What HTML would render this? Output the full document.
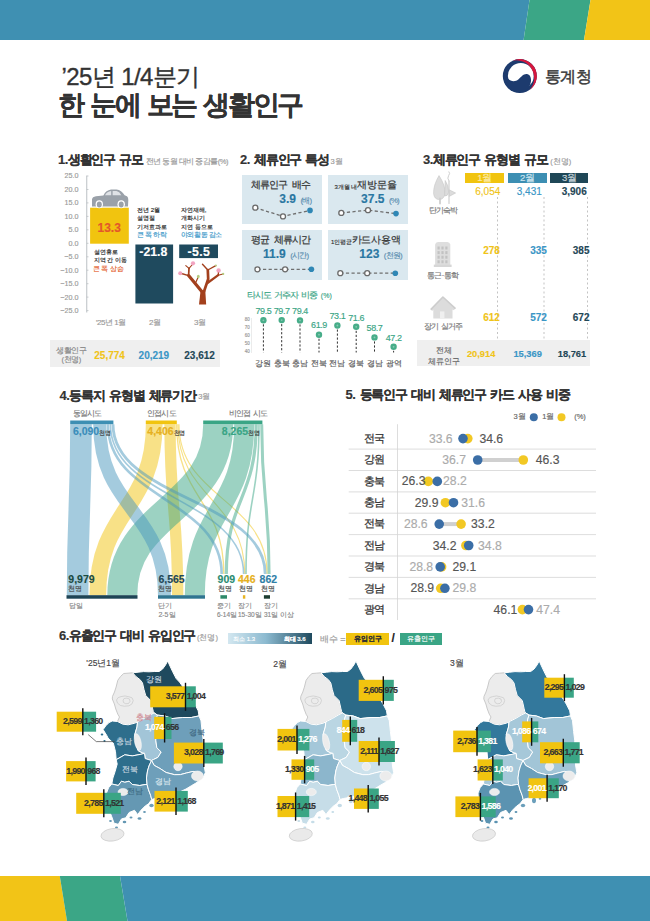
<!DOCTYPE html>
<html><head><meta charset="utf-8">
<style>
*{margin:0;padding:0;box-sizing:border-box}
html,body{width:650px;height:921px;background:#fff;overflow:hidden}
body{position:relative;font-family:"Liberation Sans",sans-serif;color:#333;-webkit-text-stroke-width:0.15px}
.a{position:absolute;white-space:nowrap;line-height:1}
.b{font-weight:bold}
svg{position:absolute;left:0;top:0}
.h{font-size:13px;font-weight:bold;color:#333;letter-spacing:-1.2px;word-spacing:1.8px}
.sub{font-size:7.5px;color:#999;font-weight:normal}
.g{color:#8a8a8a}
.Y{color:#f0c419}.B{color:#3a96c6}.D{color:#1f4757}.G{color:#3aa585}
.mv{font-size:8.8px;letter-spacing:-0.7px}
</style></head><body>
<!-- header bar -->
<svg width="650" height="921" viewBox="0 0 650 921">
<polygon points="0,0 529.5,0 523.6,40 0,40" fill="#3f90b2"/>
<polygon points="529.5,0 590.5,0 584,40 523.6,40" fill="#3ba686"/>
<polygon points="590.5,0 650,0 650,40 584,40" fill="#f2c417"/>
<polygon points="0,876 59.8,876 67,921 0,921" fill="#f2c417"/>
<polygon points="59.8,876 120,876 127.5,921 67,921" fill="#3ba686"/>
<polygon points="120,876 650,876 650,921 127.5,921" fill="#3f90b2"/>
<!-- logo -->
<g transform="translate(519.8,76.1)">
<circle r="17" fill="#1d3b6e"/>
<circle cx="1.0" cy="-0.2" r="12.9" fill="#fff"/>
<path d="M-13.5,-0.5 C-11.5,5.5 -5,6.4 -1.5,3.4 C1.5,0.8 3.5,-2.4 7,-2.1 C10.5,-1.8 11.6,2.2 11.1,5.7 C10.6,9.2 8.6,12 6,14.5 L0,16.5 L-9,14 L-14.5,8 L-15.5,0 Z" fill="#1d3b6e"/>
<path d="M-7.18,-15.41 A17 17 0 0 1 9.75,13.93 A17.8 17.8 0 0 0 -7.18,-15.41 Z" fill="#d6173d"/>
</g>
</svg>
<div class="a" style="left:61.5px;top:64.8px;font-size:24px;font-weight:500;color:#333;letter-spacing:-0.6px;-webkit-text-stroke:0.35px #333">’25년 1/4분기</div>
<div class="a" style="left:58px;top:92px;font-size:26.5px;font-weight:900;color:#333;letter-spacing:-2.3px;word-spacing:2.2px">한 눈에 보는 생활인구</div>
<div class="a" style="left:545px;top:68.5px;font-size:15.6px;color:#3a3a3a;letter-spacing:-0.7px;-webkit-text-stroke:0.45px #3a3a3a">통계청</div>

<!-- section titles -->
<div class="a h" style="left:58px;top:153px"><span style="letter-spacing:-0.5px">1.</span>생활인구 규모</div><div class="a sub" style="left:145.5px;top:157.5px;letter-spacing:-0.5px">전년 동월 대비 증감률(%)</div>
<div class="a h" style="left:240px;top:153px"><span style="letter-spacing:-0.5px">2.</span> 체류인구 특성</div><div class="a sub" style="left:330.6px;top:157.5px">3월</div>
<div class="a h" style="left:423px;top:153px"><span style="letter-spacing:-0.5px">3.</span>체류인구 유형별 규모</div><div class="a sub" style="left:550.2px;top:157.5px">(천명)</div>
<div class="a h" style="left:59.5px;top:388.5px"><span style="letter-spacing:-0.5px">4.</span>등록지 유형별 체류기간</div><div class="a sub" style="left:198.2px;top:393px">3월</div>
<div class="a h" style="left:345.5px;top:388px"><span style="letter-spacing:-0.5px">5.</span> 등록인구 대비 체류인구 카드 사용 비중</div>
<div class="a h" style="left:59px;top:629px"><span style="letter-spacing:-0.5px">6.</span>유출인구 대비 유입인구</div><div class="a sub" style="left:197px;top:633.5px">(천명)</div>
<!-- SEC1 -->
<div class="a" style="right:571.5px;top:172.4px;font-size:7.2px;color:#9a9a9a">25.0</div>
<div class="a" style="right:571.5px;top:185.9px;font-size:7.2px;color:#9a9a9a">20.0</div>
<div class="a" style="right:571.5px;top:199.3px;font-size:7.2px;color:#9a9a9a">15.0</div>
<div class="a" style="right:571.5px;top:212.8px;font-size:7.2px;color:#9a9a9a">10.0</div>
<div class="a" style="right:571.5px;top:226.2px;font-size:7.2px;color:#9a9a9a">5.0</div>
<div class="a" style="right:571.5px;top:239.7px;font-size:7.2px;color:#9a9a9a">0.0</div>
<div class="a" style="right:571.5px;top:253.2px;font-size:7.2px;color:#9a9a9a">−5.0</div>
<div class="a" style="right:571.5px;top:266.6px;font-size:7.2px;color:#9a9a9a">−10.0</div>
<div class="a" style="right:571.5px;top:280.1px;font-size:7.2px;color:#9a9a9a">−15.0</div>
<div class="a" style="right:571.5px;top:293.5px;font-size:7.2px;color:#9a9a9a">−20.0</div>
<div class="a" style="right:571.5px;top:307.0px;font-size:7.2px;color:#9a9a9a">−25.0</div>
<svg width="650" height="921">
<line x1="86.75" y1="175.6" x2="86.75" y2="312.5" stroke="#a9b0b5" stroke-width="0.8"/>
<g stroke="#a9b0b5" stroke-width="0.6">
<line x1="86.75" x2="88.5" y1="176.0" y2="176.0"/><line x1="86.75" x2="88.5" y1="189.5" y2="189.5"/><line x1="86.75" x2="88.5" y1="202.9" y2="202.9"/><line x1="86.75" x2="88.5" y1="216.4" y2="216.4"/><line x1="86.75" x2="88.5" y1="229.8" y2="229.8"/><line x1="86.75" x2="88.5" y1="243.3" y2="243.3"/><line x1="86.75" x2="88.5" y1="256.8" y2="256.8"/><line x1="86.75" x2="88.5" y1="270.2" y2="270.2"/><line x1="86.75" x2="88.5" y1="283.7" y2="283.7"/><line x1="86.75" x2="88.5" y1="297.1" y2="297.1"/><line x1="86.75" x2="88.5" y1="310.6" y2="310.6"/>
</g>
<rect x="90.1" y="207.7" width="38.7" height="36" fill="#f1c40f"/>
<rect x="135.4" y="244.5" width="37.7" height="59" fill="#1f4a5e"/>
<rect x="179.2" y="244.5" width="38.8" height="13.6" fill="#1f4a5e"/>
<!-- car -->
<path d="M92,206.5 L92,199.5 Q92.3,196.8 96,196.3 L103.4,195.4 Q106,190.2 111,189.5 L116.5,189.4 Q121.5,190 124.6,195.2 L127,196.2 Q128.4,197.2 128.3,200 L128,206.5 Z" fill="#9aa1a9"/>
<path d="M105,195.2 Q107,191.4 111.2,191 L111.2,195.2 Z" fill="#dfe2e6"/>
<path d="M112.6,191 L116.5,191 Q119.5,191.6 121.3,195.2 L112.6,195.2 Z" fill="#dfe2e6"/>
<ellipse cx="99.3" cy="204.3" rx="3.7" ry="4" fill="#fff"/><ellipse cx="99.3" cy="204.5" rx="2.5" ry="2.9" fill="#9aa1a9"/>
<ellipse cx="121.2" cy="204.3" rx="3.7" ry="4" fill="#fff"/><ellipse cx="121.2" cy="204.5" rx="2.5" ry="2.9" fill="#9aa1a9"/>
<!-- tree -->
<path d="M199,304.5 L206.2,304.5 L205.3,290.5 L200.6,290.5 Z" fill="#a3401d"/>
<g stroke="#a3401d" stroke-linecap="round" fill="none">
<path d="M201.8,291.5 L188.6,275.6" stroke-width="3.2"/>
<path d="M188.6,275.6 L180.6,273.2" stroke-width="1.5"/>
<path d="M188.6,275.6 L189,268.4" stroke-width="1.7"/>
<path d="M189,268.4 L185.8,265.6" stroke-width="1.1"/>
<path d="M189,268.4 L192,265" stroke-width="1.1"/>
<path d="M195.5,283 L198,277.5" stroke-width="1.2"/>
<path d="M204,291.5 L208.2,279 L207.8,270" stroke-width="2.7"/>
<path d="M207.8,270 L202.5,264.3" stroke-width="1.4"/>
<path d="M207.8,270 L215.8,265.6" stroke-width="1.2"/>
<path d="M207.5,283 L218.2,275.2" stroke-width="2.2"/>
<path d="M218.2,275.2 L218.6,271" stroke-width="1.3"/>
<path d="M218.2,275.2 L223,274" stroke-width="1.1"/>
</g>
<g fill="#f2a3c0"><circle cx="180.2" cy="273.2" r="2"/><circle cx="193" cy="263.3" r="2.1"/><circle cx="218.6" cy="270.4" r="2.2"/></g>
<g fill="#b5cc80"><ellipse cx="198.3" cy="276.6" rx="1.4" ry="1.8"/><circle cx="215.9" cy="265.5" r="1"/><circle cx="223.2" cy="273.9" r="1.1"/></g>
</svg>
<div class="a b" style="left:97.5px;top:222.3px;font-size:12px;color:#e4572a">13.3</div>
<div class="a b" style="left:139.3px;top:245.5px;font-size:12.3px;color:#fff">-21.8</div>
<div class="a b" style="left:187.5px;top:245.5px;font-size:12.3px;color:#fff;letter-spacing:0.4px">-5.5</div>
<div class="a" style="left:93.5px;top:248px;font-size:6.2px;color:#222;font-weight:500;line-height:8.3px">설연휴로<br>지역 간 이동</div>
<div class="a" style="left:93px;top:264.8px;font-size:7.4px;color:#e4602e;letter-spacing:-0.3px;-webkit-text-stroke:0.15px #e4602e">큰 폭 상승</div>
<div class="a" style="left:137px;top:205.8px;font-size:6.2px;color:#222;font-weight:500;line-height:8.6px">전년 2월<br>설명절<br>기저효과로</div>
<div class="a" style="left:137px;top:231px;font-size:7.2px;color:#3a98c9;letter-spacing:-0.4px;-webkit-text-stroke:0.15px #3a98c9">큰 폭 하락</div>
<div class="a" style="left:180.8px;top:205.8px;font-size:6.2px;color:#222;font-weight:500;line-height:8.6px">자연재해,<br>개화시기<br>지연 등으로</div>
<div class="a" style="left:180.8px;top:231px;font-size:7.2px;color:#3a98c9;letter-spacing:-0.4px;-webkit-text-stroke:0.15px #3a98c9">야외활동 감소</div>
<div class="a" style="left:95.7px;top:318.5px;font-size:8px;color:#999;letter-spacing:-0.45px">’25년 1월</div>
<div class="a" style="left:149px;top:318.5px;font-size:8px;color:#999">2월</div>
<div class="a" style="left:194px;top:318.5px;font-size:8px;color:#999">3월</div>
<div class="a" style="left:50px;top:339.6px;width:170.3px;height:27.7px;background:#efefef"></div>
<div class="a" style="left:56px;top:345.5px;font-size:7.5px;color:#888;line-height:9.7px;text-align:center;letter-spacing:-0.4px">생활인구<br>(천명)</div>
<div class="a b Y" style="left:94.3px;top:351px;font-size:10px">25,774</div>
<div class="a b B" style="left:138.6px;top:351px;font-size:10px">20,219</div>
<div class="a b D" style="left:184.3px;top:351px;font-size:10px">23,612</div>

<!-- /SEC1 -->
<!-- SEC2 -->

<div class="a" style="left:242.2px;top:174.8px;width:80.3px;height:49.5px;background:#dae8ef"></div>
<div class="a" style="left:328.2px;top:174.8px;width:79.6px;height:49.5px;background:#dae8ef"></div>
<div class="a" style="left:242.2px;top:229.8px;width:80.3px;height:49.9px;background:#dae8ef"></div>
<div class="a" style="left:328.2px;top:229.8px;width:79.6px;height:49.9px;background:#dae8ef"></div>
<div class="a" style="left:250.7px;top:179.8px;font-size:10.3px;color:#333;letter-spacing:-0.75px;word-spacing:2.2px;-webkit-text-stroke:0.2px #333">체류인구 배수</div>
<div class="a" style="left:334.4px;top:184.3px;font-size:6px;color:#333;font-weight:500">3개월 내</div>
<div class="a" style="left:357.2px;top:179.8px;font-size:10.3px;color:#333;letter-spacing:-0.2px;-webkit-text-stroke:0.2px #333">재방문율</div>
<div class="a" style="left:251.2px;top:234.8px;font-size:10.3px;color:#333;letter-spacing:-0.9px;word-spacing:2.2px;-webkit-text-stroke:0.2px #333">평균 체류시간</div>
<div class="a" style="left:330.9px;top:239.3px;font-size:6px;color:#333;font-weight:500">1인평균</div>
<div class="a" style="left:351.7px;top:234.8px;font-size:10.3px;color:#333;letter-spacing:-0.2px;-webkit-text-stroke:0.2px #333">카드사용액</div>
<div class="a" style="left:279.3px;top:190px"><span class="b" style="font-size:12px;color:#2a77a2">3.9</span> <span style="font-size:8px;color:#5b8fb0;letter-spacing:-0.8px">(배)</span></div>
<div class="a" style="left:361.1px;top:190px"><span class="b" style="font-size:12px;color:#2a77a2">37.5</span> <span style="font-size:8px;color:#5b8fb0;letter-spacing:-0.8px">(%)</span></div>
<div class="a" style="left:263px;top:245.3px"><span class="b" style="font-size:12px;color:#2a77a2">11.9</span> <span style="font-size:8px;color:#5b8fb0;letter-spacing:-0.8px">(시간)</span></div>
<div class="a" style="left:359.3px;top:245.3px"><span class="b" style="font-size:12px;color:#2a77a2">123</span> <span style="font-size:8px;color:#5b8fb0;letter-spacing:-0.8px">(천원)</span></div>
<svg width="650" height="921">
<g stroke="#6f6f6f" stroke-width="1.3" stroke-dasharray="3.2,2.4" fill="none">
<polyline points="255.3,207.7 283,216.4 310,210.4"/>
<polyline points="341.3,212.9 368,210.2 396,213.6"/>
<polyline points="257.4,269.3 285.1,269.3 311.4,269.3"/>
<polyline points="340.3,273.2 367.2,273.2 395.3,273.2"/>
</g>
<g fill="#fff" stroke="#6a6a6a" stroke-width="1.3">
<circle cx="255.3" cy="207.7" r="2.5"/><circle cx="283" cy="216.4" r="2.5"/>
<circle cx="341.3" cy="212.9" r="2.5"/><circle cx="368" cy="210.2" r="2.5"/>
<circle cx="257.4" cy="269.3" r="2.5"/><circle cx="285.1" cy="269.3" r="2.5"/>
<circle cx="340.3" cy="273.2" r="2.5"/><circle cx="367.2" cy="273.2" r="2.5"/>
</g>
<g fill="#2f87b5">
<circle cx="310" cy="210.4" r="2.8"/><circle cx="396" cy="213.6" r="2.8"/><circle cx="311.4" cy="269.3" r="2.8"/><circle cx="395.3" cy="273.2" r="2.8"/>
</g>
<g stroke="#333" stroke-width="1" stroke-dasharray="2.2,1.8"><line x1="263.4" y1="320.3" x2="263.4" y2="352.5"/><line x1="281.7" y1="320.1" x2="281.7" y2="352.5"/><line x1="300" y1="320.4" x2="300" y2="352.5"/><line x1="319" y1="334.7" x2="319" y2="352.5"/><line x1="337.4" y1="325.5" x2="337.4" y2="352.5"/><line x1="356.2" y1="326.8" x2="356.2" y2="352.5"/><line x1="374.5" y1="337.4" x2="374.5" y2="352.5"/><line x1="393.6" y1="346.8" x2="393.6" y2="352.5"/></g><g fill="#47ad89"><circle cx="263.4" cy="320.3" r="3.2"/><circle cx="281.7" cy="320.1" r="3.2"/><circle cx="300" cy="320.4" r="3.2"/><circle cx="319" cy="334.7" r="3.2"/><circle cx="337.4" cy="325.5" r="3.2"/><circle cx="356.2" cy="326.8" r="3.2"/><circle cx="374.5" cy="337.4" r="3.2"/><circle cx="393.6" cy="346.8" r="3.2"/></g><g fill="#fff" opacity="0.35"><circle cx="263.4" cy="320.3" r="0.9"/><circle cx="281.7" cy="320.1" r="0.9"/><circle cx="300" cy="320.4" r="0.9"/><circle cx="319" cy="334.7" r="0.9"/><circle cx="337.4" cy="325.5" r="0.9"/><circle cx="356.2" cy="326.8" r="0.9"/><circle cx="374.5" cy="337.4" r="0.9"/><circle cx="393.6" cy="346.8" r="0.9"/></g><line x1="251.5" y1="318" x2="251.5" y2="353" stroke="#ddd" stroke-width="0.6"/></svg>
<div class="a" style="left:244.8px;top:318.1px;font-size:4.5px;color:#999">80</div>
<div class="a" style="left:244.8px;top:326.2px;font-size:4.5px;color:#999">70</div>
<div class="a" style="left:244.8px;top:334.2px;font-size:4.5px;color:#999">60</div>
<div class="a" style="left:244.8px;top:342.2px;font-size:4.5px;color:#999">50</div>
<div class="a" style="left:244.8px;top:350.3px;font-size:4.5px;color:#999">40</div>
<div class="a G" style="left:243.39999999999998px;width:40px;text-align:center;top:307.0px;font-size:9px;letter-spacing:-0.4px">79.5</div>
<div class="a G" style="left:261.7px;width:40px;text-align:center;top:306.8px;font-size:9px;letter-spacing:-0.4px">79.7</div>
<div class="a G" style="left:280px;width:40px;text-align:center;top:307.1px;font-size:9px;letter-spacing:-0.4px">79.4</div>
<div class="a G" style="left:299px;width:40px;text-align:center;top:321.4px;font-size:9px;letter-spacing:-0.4px">61.9</div>
<div class="a G" style="left:317.4px;width:40px;text-align:center;top:312.2px;font-size:9px;letter-spacing:-0.4px">73.1</div>
<div class="a G" style="left:336.2px;width:40px;text-align:center;top:313.5px;font-size:9px;letter-spacing:-0.4px">71.6</div>
<div class="a G" style="left:354.5px;width:40px;text-align:center;top:324.1px;font-size:9px;letter-spacing:-0.4px">58.7</div>
<div class="a G" style="left:373.6px;width:40px;text-align:center;top:333.5px;font-size:9px;letter-spacing:-0.4px">47.2</div>
<div class="a" style="left:248.39999999999998px;width:30px;text-align:center;top:359.5px;font-size:8px;color:#555">강원</div>
<div class="a" style="left:266.7px;width:30px;text-align:center;top:359.5px;font-size:8px;color:#555">충북</div>
<div class="a" style="left:285px;width:30px;text-align:center;top:359.5px;font-size:8px;color:#555">충남</div>
<div class="a" style="left:304px;width:30px;text-align:center;top:359.5px;font-size:8px;color:#555">전북</div>
<div class="a" style="left:322.4px;width:30px;text-align:center;top:359.5px;font-size:8px;color:#555">전남</div>
<div class="a" style="left:341.2px;width:30px;text-align:center;top:359.5px;font-size:8px;color:#555">경북</div>
<div class="a" style="left:359.5px;width:30px;text-align:center;top:359.5px;font-size:8px;color:#555">경남</div>
<div class="a" style="left:378.6px;width:30px;text-align:center;top:359.5px;font-size:8px;color:#555">광역</div>
<div class="a G" style="left:247.2px;top:291px;font-size:9.2px;letter-spacing:-1.2px;word-spacing:2.4px">타시도 거주자 비중 <span style="font-size:7px;letter-spacing:0">(%)</span></div>
<!-- /SEC2 -->
<!-- SEC3 -->

<div class="a" style="left:464.9px;top:172.7px;width:39.6px;height:10.5px;background:#f1c40f;color:#fbeaa8;font-size:9.6px;text-align:center;line-height:10.5px;letter-spacing:-0.3px">1월</div>
<div class="a" style="left:508px;top:172.7px;width:38.8px;height:10.5px;background:#3d8fb3;color:#cfe5ef;font-size:9.6px;text-align:center;line-height:10.5px;letter-spacing:-0.3px">2월</div>
<div class="a" style="left:550.2px;top:172.7px;width:38.2px;height:10.5px;background:#1f4757;color:#c9d6dc;font-size:9.6px;text-align:center;line-height:10.5px;letter-spacing:-0.3px">3월</div>
<div class="a" style="left:416.9px;top:340.2px;width:173.3px;height:26.3px;background:#efefef"></div>
<svg width="650" height="921"><g stroke="#aaa" stroke-width="0.7" stroke-dasharray="2,2.5">
<line x1="497.5" y1="197" x2="497.5" y2="340"/><line x1="544" y1="197" x2="544" y2="340"/><line x1="587.5" y1="197" x2="587.5" y2="340"/>
</g>
<!-- hotel/tree icon -->
<g fill="#dcdcdc" stroke="#c6c6c6" stroke-width="0.6">
<path d="M439,175.6 Q445.5,185.5 445,193.5 Q444,199.5 439.2,199.5 Q434.2,199.5 433.6,193.5 Q433.2,185.5 439,175.6 Z"/>
<path d="M445.2,180.5 Q449,186 448.6,192.5 Q447.6,196.5 444.6,196 Z"/>
<path d="M449.2,189.8 L455.6,193 L449.2,196.4 Z"/>
</g>
<g stroke="#cfcfcf" fill="none" stroke-linecap="round">
<path d="M440,198.5 L440,203.6" stroke-width="1.8"/>
<path d="M449,181 L449,203.5" stroke-width="1.2"/>
<path d="M449,181 Q446.8,178 448.6,175.6 Q450.6,173.5 449,171.8" stroke-width="1"/>
</g>
<!-- building -->
<path d="M435.1,266.8 L435.1,244.5 Q435.6,242 438,242 L447.4,242 Q449.8,242 450.3,244.5 L450.3,266.8 Z" fill="#dedede"/>
<rect x="433.8" y="264.6" width="17.8" height="2.4" fill="#d6d6d6"/>
<g fill="#c2c2c2">
<rect x="437.5" y="246.5" width="2.2" height="3"/><rect x="441.4" y="246.5" width="2.2" height="3"/><rect x="445.3" y="246.5" width="2.2" height="3"/><rect x="437.5" y="251.1" width="2.2" height="3"/><rect x="441.4" y="251.1" width="2.2" height="3"/><rect x="445.3" y="251.1" width="2.2" height="3"/><rect x="437.5" y="255.7" width="2.2" height="3"/><rect x="441.4" y="255.7" width="2.2" height="3"/><rect x="445.3" y="255.7" width="2.2" height="3"/><rect x="437.5" y="260.3" width="2.2" height="3"/><rect x="441.4" y="260.3" width="2.2" height="3"/><rect x="445.3" y="260.3" width="2.2" height="3"/>
</g>
<!-- house -->
<path d="M430.7,309.6 L442.9,297 L455.5,308.6 L453.6,310.2 L452.5,309.4 L452.5,318.4 L433.3,318.4 L433.3,309.6 L432.3,311 Z" fill="#dcdcdc"/>
<path d="M430.7,309.6 L442.9,297 L455.5,308.6" fill="none" stroke="#cdcdcd" stroke-width="1.6" stroke-linejoin="round"/>
<rect x="440" y="311.4" width="4.4" height="7" fill="#efefef"/>
</svg>
<div class="a" style="left:428.7px;top:207.2px;font-size:7.6px;color:#777;letter-spacing:-0.9px">단기숙박</div>
<div class="a" style="left:427px;top:271.8px;font-size:7.5px;color:#777;letter-spacing:-0.6px">통근·통학</div>
<div class="a" style="left:424.2px;top:322.6px;font-size:7.5px;color:#777;letter-spacing:-1.1px;word-spacing:2px">장기 실거주</div>
<div class="a" style="left:424px;width:40px;text-align:center;top:344.8px;font-size:7.5px;color:#666;line-height:11px">전체<br>체류인구</div>
<div class="a Y" style="right:149.7px;top:186.7px;font-size:10px">6,054</div>
<div class="a B" style="right:108.2px;top:186.7px;font-size:10px">3,431</div>
<div class="a D b" style="right:63.3px;top:186.7px;font-size:10px">3,906</div>
<div class="a Y b" style="right:150.2px;top:245.8px;font-size:10px">278</div>
<div class="a B b" style="right:103.2px;top:245.8px;font-size:10px">335</div>
<div class="a D b" style="right:60.5px;top:245.8px;font-size:10px">385</div>
<div class="a Y b" style="right:150.2px;top:313.0px;font-size:10px">612</div>
<div class="a B b" style="right:103.2px;top:313.0px;font-size:10px">572</div>
<div class="a D b" style="right:60.5px;top:313.0px;font-size:10px">672</div>
<div class="a Y b" style="right:154.7px;top:349.6px;font-size:9.3px">20,914</div>
<div class="a B b" style="right:108.2px;top:349.6px;font-size:9.3px">15,369</div>
<div class="a D b" style="right:63.8px;top:349.6px;font-size:9.3px">18,761</div>
<!-- /SEC3 -->
<!-- SEC4 -->
<svg width="650" height="921">
<path d="M154.2,424.2 C154.2,509.7 97.8,509.7 97.8,595.2" stroke="#f1c40f" stroke-opacity="0.5" stroke-width="16.7" fill="none"/>
<path d="M170.0,424.2 C170.0,509.7 177.7,509.7 177.7,595.2" stroke="#f1c40f" stroke-opacity="0.5" stroke-width="11.3" fill="none"/>
<path d="M176.6,424.2 C176.6,499.1 223.8,499.1 223.8,574" stroke="#f1c40f" stroke-opacity="0.5" stroke-width="1.3" fill="none"/>
<path d="M177.9,424.2 C177.9,499.1 244.8,499.1 244.8,574" stroke="#f1c40f" stroke-opacity="0.5" stroke-width="1.1" fill="none"/>
<path d="M179.0,424.2 C179.0,499.1 267.1,499.1 267.1,574" stroke="#f1c40f" stroke-opacity="0.5" stroke-width="1.1" fill="none"/>
<path d="M218.2,424.2 C218.2,509.7 122.3,509.7 122.3,595.2" stroke="#3aa585" stroke-opacity="0.5" stroke-width="30.0" fill="none"/>
<path d="M244.2,424.2 C244.2,509.7 194.8,509.7 194.8,595.2" stroke="#3aa585" stroke-opacity="0.5" stroke-width="20.0" fill="none"/>
<path d="M256.2,424.2 C256.2,499.1 226.3,499.1 226.3,574" stroke="#3aa585" stroke-opacity="0.5" stroke-width="3.2" fill="none"/>
<path d="M259.0,424.2 C259.0,499.1 246.0,499.1 246.0,574" stroke="#3aa585" stroke-opacity="0.5" stroke-width="1.6" fill="none"/>
<path d="M261.7,424.2 C261.7,499.1 269.1,499.1 269.1,574" stroke="#3aa585" stroke-opacity="0.5" stroke-width="3.0" fill="none"/>
<path d="M81.0,424.2 C81.0,509.7 77.6,509.7 77.6,595.2" stroke="#4a97bd" stroke-opacity="0.5" stroke-width="21.6" fill="none"/>
<path d="M99.7,424.2 C99.7,509.7 164.5,509.7 164.5,595.2" stroke="#4a97bd" stroke-opacity="0.5" stroke-width="13.0" fill="none"/>
<path d="M107.9,424.2 C107.9,499.1 221.7,499.1 221.7,574" stroke="#4a97bd" stroke-opacity="0.5" stroke-width="2.6" fill="none"/>
<path d="M110.4,424.2 C110.4,499.1 243.6,499.1 243.6,574" stroke="#4a97bd" stroke-opacity="0.5" stroke-width="1.6" fill="none"/>
<path d="M113.0,424.2 C113.0,499.1 265.2,499.1 265.2,574" stroke="#4a97bd" stroke-opacity="0.5" stroke-width="2.8" fill="none"/>
<rect x="70.2" y="420.5" width="43.2" height="3.7" fill="#3d8fb3"/>
<rect x="145.8" y="420.5" width="31" height="3.7" fill="#f1c40f"/>
<rect x="203.2" y="420.5" width="59.2" height="3.7" fill="#3aa585"/>
<rect x="66.5" y="595.2" width="71" height="3.5" fill="#1d4455"/>
<rect x="158" y="595.2" width="47" height="3.5" fill="#2f7590"/>
<rect x="220.4" y="595.2" width="6.6" height="3.5" fill="#2f8a6a"/>
<rect x="242.9" y="595.2" width="2.4" height="3.5" fill="#e8b422"/>
<rect x="263.9" y="595.2" width="6.1" height="3.5" fill="#1d3d30"/>
</svg>
<div class="a" style="left:72.9px;top:409.6px;font-size:7.5px;color:#777;letter-spacing:-0.9px">동일시도</div>
<div class="a" style="left:147.3px;top:409.6px;font-size:7.5px;color:#777;letter-spacing:-0.9px">인접시도</div>
<div class="a" style="left:229.2px;top:409.6px;font-size:7.5px;color:#777;letter-spacing:-1px;word-spacing:2px">비인접 시도</div>
<div class="a" style="left:72.9px;top:426.3px;font-size:10.5px"><span class="b" style="color:#3a8dba">6,090</span><span style="font-size:6.3px;color:#333;letter-spacing:-0.4px">천명</span></div>
<div class="a" style="left:147.3px;top:426.3px;font-size:10.5px"><span class="b" style="color:#e6b020">4,406</span><span style="font-size:6.3px;color:#333;letter-spacing:-0.4px">천명</span></div>
<div class="a" style="left:221.8px;top:426.3px;font-size:10.5px"><span class="b" style="color:#3aa585">8,265</span><span style="font-size:6.3px;color:#333;letter-spacing:-0.4px">천명</span></div>
<div class="a b" style="left:68.3px;top:573.5px;font-size:10.5px;color:#1a4a40">9,979</div>
<div class="a b" style="left:158.4px;top:573.5px;font-size:10.5px;color:#1f4757">6,565</div>
<div class="a b" style="left:217.6px;top:573.5px;font-size:10.5px;color:#2a8c72">909</div>
<div class="a b" style="left:238px;top:573.5px;font-size:10.5px;color:#e6b020">446</div>
<div class="a b" style="left:259.6px;top:573.5px;font-size:10.5px;color:#2f7fa7">862</div>
<div class="a" style="left:68.3px;top:585.5px;font-size:6.5px;color:#444">천명</div>
<div class="a" style="left:158.4px;top:585.5px;font-size:6.5px;color:#444">천명</div>
<div class="a" style="left:217.6px;top:585.5px;font-size:6.5px;color:#444">천명</div>
<div class="a" style="left:238.8px;top:585.5px;font-size:6.5px;color:#444">천명</div>
<div class="a" style="left:260.5px;top:585.5px;font-size:6.5px;color:#444">천명</div>
<div class="a" style="left:69.2px;top:601.8px;font-size:7px;color:#888">당일</div>
<div class="a" style="left:158.4px;top:600.5px;font-size:7px;color:#888;line-height:9px">단기<br>2-5일</div>
<div class="a" style="left:217px;top:600.5px;font-size:6.5px;color:#888;line-height:9px">중기<br>6-14일</div>
<div class="a" style="left:238px;top:600.5px;font-size:6.5px;color:#888;line-height:9px">장기<br>15-30일</div>
<div class="a" style="left:264px;top:600.5px;font-size:6.5px;color:#888;line-height:9px">장기<br>31일 이상</div>
<!-- /SEC4 -->
<!-- SEC5 -->
<svg width="650" height="921">
<line x1="397.5" y1="424.2" x2="397.5" y2="620" stroke="#d4d4d4" stroke-width="0.8"/>
<line x1="348.7" y1="449.1" x2="596" y2="449.1" stroke="#d4d4d4" stroke-width="0.8"/>
<line x1="348.7" y1="470.5" x2="596" y2="470.5" stroke="#d4d4d4" stroke-width="0.8"/>
<line x1="348.7" y1="491.9" x2="596" y2="491.9" stroke="#d4d4d4" stroke-width="0.8"/>
<line x1="348.7" y1="513.2" x2="596" y2="513.2" stroke="#d4d4d4" stroke-width="0.8"/>
<line x1="348.7" y1="534.6" x2="596" y2="534.6" stroke="#d4d4d4" stroke-width="0.8"/>
<line x1="348.7" y1="556.0" x2="596" y2="556.0" stroke="#d4d4d4" stroke-width="0.8"/>
<line x1="348.7" y1="577.4" x2="596" y2="577.4" stroke="#d4d4d4" stroke-width="0.8"/>
<line x1="348.7" y1="598.8" x2="596" y2="598.8" stroke="#d4d4d4" stroke-width="0.8"/>
<line x1="463.0" y1="438.6" x2="467.8" y2="438.6" stroke="#d0d0d0" stroke-width="4"/>
<circle cx="467.8" cy="438.6" r="4.8" fill="#f2c824"/>
<circle cx="463.0" cy="438.6" r="4.8" fill="#3b6ea6"/>
<line x1="477.7" y1="460.0" x2="523.3" y2="460.0" stroke="#d0d0d0" stroke-width="4"/>
<circle cx="523.3" cy="460.0" r="4.8" fill="#f2c824"/>
<circle cx="477.7" cy="460.0" r="4.8" fill="#3b6ea6"/>
<line x1="428.3" y1="481.4" x2="437.3" y2="481.4" stroke="#d0d0d0" stroke-width="4"/>
<circle cx="428.3" cy="481.4" r="4.8" fill="#f2c824"/>
<circle cx="437.3" cy="481.4" r="4.8" fill="#3b6ea6"/>
<line x1="445.4" y1="502.7" x2="453.5" y2="502.7" stroke="#d0d0d0" stroke-width="4"/>
<circle cx="445.4" cy="502.7" r="4.8" fill="#f2c824"/>
<circle cx="453.5" cy="502.7" r="4.8" fill="#3b6ea6"/>
<line x1="439.2" y1="524.1" x2="461.1" y2="524.1" stroke="#d0d0d0" stroke-width="4"/>
<circle cx="461.1" cy="524.1" r="4.8" fill="#f2c824"/>
<circle cx="439.2" cy="524.1" r="4.8" fill="#3b6ea6"/>
<line x1="465.9" y1="545.5" x2="468.7" y2="545.5" stroke="#d0d0d0" stroke-width="4"/>
<circle cx="465.9" cy="545.5" r="4.8" fill="#f2c824"/>
<circle cx="468.7" cy="545.5" r="4.8" fill="#3b6ea6"/>
<line x1="440.2" y1="566.9" x2="441.6" y2="566.9" stroke="#d0d0d0" stroke-width="4"/>
<circle cx="441.6" cy="566.9" r="4.8" fill="#f2c824"/>
<circle cx="440.2" cy="566.9" r="4.8" fill="#3b6ea6"/>
<line x1="440.7" y1="588.3" x2="444.9" y2="588.3" stroke="#d0d0d0" stroke-width="4"/>
<circle cx="440.7" cy="588.3" r="4.8" fill="#f2c824"/>
<circle cx="444.9" cy="588.3" r="4.8" fill="#3b6ea6"/>
<line x1="522.4" y1="609.6" x2="528.5" y2="609.6" stroke="#d0d0d0" stroke-width="4"/>
<circle cx="522.4" cy="609.6" r="4.8" fill="#f2c824"/>
<circle cx="528.5" cy="609.6" r="4.8" fill="#3b6ea6"/>
<circle cx="533.8" cy="417.3" r="4" fill="#3b6ea6"/><circle cx="561.5" cy="417.3" r="4" fill="#f2c824"/>
</svg>
<div class="a" style="right:197.4px;top:432.6px;font-size:12.2px;color:#ababab">33.6</div>
<div class="a" style="left:479.4px;top:432.6px;font-size:12.2px;color:#555">34.6</div>
<div class="a" style="left:363.6px;top:432.8px;font-size:10.8px;color:#333;letter-spacing:-0.6px;-webkit-text-stroke:0.25px #333">전국</div>
<div class="a" style="right:184.0px;top:454.0px;font-size:12.2px;color:#ababab">36.7</div>
<div class="a" style="left:535.7px;top:454.0px;font-size:12.2px;color:#555">46.3</div>
<div class="a" style="left:363.6px;top:454.2px;font-size:10.8px;color:#333;letter-spacing:-0.6px;-webkit-text-stroke:0.25px #333">강원</div>
<div class="a" style="right:224.5px;top:475.4px;font-size:12.2px;color:#555">26.3</div>
<div class="a" style="left:443.1px;top:475.4px;font-size:12.2px;color:#ababab">28.2</div>
<div class="a" style="left:363.6px;top:475.6px;font-size:10.8px;color:#333;letter-spacing:-0.6px;-webkit-text-stroke:0.25px #333">충북</div>
<div class="a" style="right:211.5px;top:496.7px;font-size:12.2px;color:#555">29.9</div>
<div class="a" style="left:461.2px;top:496.7px;font-size:12.2px;color:#ababab">31.6</div>
<div class="a" style="left:363.6px;top:496.9px;font-size:10.8px;color:#333;letter-spacing:-0.6px;-webkit-text-stroke:0.25px #333">충남</div>
<div class="a" style="right:222.4px;top:518.1px;font-size:12.2px;color:#ababab">28.6</div>
<div class="a" style="left:471.1px;top:518.1px;font-size:12.2px;color:#555">33.2</div>
<div class="a" style="left:363.6px;top:518.3px;font-size:10.8px;color:#333;letter-spacing:-0.6px;-webkit-text-stroke:0.25px #333">전북</div>
<div class="a" style="right:193.5px;top:539.5px;font-size:12.2px;color:#555">34.2</div>
<div class="a" style="left:478.1px;top:539.5px;font-size:12.2px;color:#ababab">34.8</div>
<div class="a" style="left:363.6px;top:539.7px;font-size:10.8px;color:#333;letter-spacing:-0.6px;-webkit-text-stroke:0.25px #333">전남</div>
<div class="a" style="right:216.9px;top:560.9px;font-size:12.2px;color:#ababab">28.8</div>
<div class="a" style="left:452.5px;top:560.9px;font-size:12.2px;color:#555">29.1</div>
<div class="a" style="left:363.6px;top:561.1px;font-size:10.8px;color:#333;letter-spacing:-0.6px;-webkit-text-stroke:0.25px #333">경북</div>
<div class="a" style="right:215.9px;top:582.3px;font-size:12.2px;color:#555">28.9</div>
<div class="a" style="left:452.5px;top:582.3px;font-size:12.2px;color:#ababab">29.8</div>
<div class="a" style="left:363.6px;top:582.5px;font-size:10.8px;color:#333;letter-spacing:-0.6px;-webkit-text-stroke:0.25px #333">경남</div>
<div class="a" style="right:132.7px;top:603.6px;font-size:12.2px;color:#555">46.1</div>
<div class="a" style="left:536.2px;top:603.6px;font-size:12.2px;color:#ababab">47.4</div>
<div class="a" style="left:363.6px;top:603.8px;font-size:10.8px;color:#333;letter-spacing:-0.6px;-webkit-text-stroke:0.25px #333">광역</div>
<div class="a" style="left:513.5px;top:413.3px;font-size:7.5px;color:#666">3월</div>
<div class="a" style="left:542.3px;top:413.3px;font-size:7.5px;color:#666">1월</div>
<div class="a" style="left:574.2px;top:413.3px;font-size:7.5px;color:#666">(%)</div>
<!-- /SEC5 -->
<!-- SEC6 -->
<svg width="650" height="921">
<g transform="translate(0,0)">
<polygon points="132.7,672.8 135.9,676.5 140.2,679.8 142.5,683 144,689.6 145.7,695.5 150.8,700.6 152.5,708.2 153.3,711.5 154.1,712.9 149.8,715.1 144.4,718.3 139,721 137.5,722 134.7,723.2 128.2,724.8 122.9,724.2 117.5,721.5 119.5,717 117.8,714.2 115.8,709 114.4,704 112.3,699 112.5,696.4 114.5,692 116.1,687.1 117.8,680.3 120.5,676.5 123.7,673.5 128,673.2" fill="#ececec" stroke="#c9c9c9" stroke-width="1" stroke-linejoin="round"/>
<polygon points="132.7,672.8 138.1,672.2 143.5,671.6 149,671.8 154.2,671.5 159.2,671.5 162.6,669 165.5,665 167.7,661 169.5,665 172.7,671.8 176.2,678.6 179.5,682.1 183,687 187,692 191,698 194.8,704.1 198.2,710.8 199,715.9 191.3,717.5 182.7,717.5 171.9,718.6 165,716 157.5,715.1 154.1,712.9 153.3,711.5 152.5,708.2 150.8,700.6 145.7,695.5 144,689.6 142.5,683 140.2,679.8 135.9,676.5" fill="#1f4a5e" stroke="#fff" stroke-width="1" stroke-linejoin="round"/>
<polygon points="112.2,721 117.5,721.5 122.9,724.2 128.2,724.8 134.7,723.2 137.5,722 137,727 134.8,734.5 135.9,743.1 138.1,750.6 142.4,752.8 144.5,753.3 140.9,754.3 132.3,755.9 124.8,754.8 116.2,759.7 115.5,751.7 113.3,743.1 108,738 106.8,735.5 103.1,729.6 105.8,725.8 109,722.6" fill="#2e6e8c" stroke="#fff" stroke-width="1" stroke-linejoin="round"/>
<polygon points="137.5,722 139,721 144.4,718.3 149.8,715.1 154.1,712.9 157.5,715.1 156,720 155.8,740.2 156.8,747.7 161.2,752 157.9,757.4 153.5,759.5 151.5,760.5 145.2,758.6 144.5,753.3 142.4,752.8 138.1,750.6 135.9,743.1 134.8,734.5 137,727" fill="#a2c5d8" stroke="#fff" stroke-width="1" stroke-linejoin="round"/>
<polygon points="116.2,759.7 124.8,754.8 132.3,755.9 140.9,754.3 144.5,753.3 145.2,758.6 151.5,760.5 149,766 147.5,771 146.5,778 147.1,784.5 145.2,784.5 139.8,785.5 132.3,784.5 129.1,781.2 124.8,782.3 121.5,781.2 118.3,785.5 111.8,784 112.9,778 115.1,771.5 117.2,764" fill="#2e6e8c" stroke="#fff" stroke-width="1" stroke-linejoin="round"/>
<polygon points="111.8,784 118.3,785.5 121.5,781.2 124.8,782.3 129.1,781.2 132.3,784.5 139.8,785.5 145.2,784.5 147.1,784.5 148.5,789.8 150.6,795.2 151.7,799.5 148.5,803.8 145.2,806 140.9,810.3 137.7,814.6 134.5,810.3 129.1,812.5 125.8,817.8 121.5,818.9 118.3,824.3 114,823.2 111.8,816.8 109,810 107,803 106.5,793 108.6,787.7" fill="#6598b3" stroke="#fff" stroke-width="1" stroke-linejoin="round"/>
<polygon points="157.5,715.1 165,716 171.9,718.6 182.7,717.5 191.3,717.5 199,715.9 201,720.8 202.1,731.5 203.2,740.2 203.5,750 203.5,758 204.2,766 205.3,772.5 203.7,776.8 199,773.5 193.2,771.4 186.4,773 180.5,774.6 174.6,774.7 166.1,772.5 160,768.5 154.2,765.4 151.5,760.5 153.5,759.5 157.9,757.4 161.2,752 156.8,747.7 155.8,740.2 156,720" fill="#6e9fba" stroke="#fff" stroke-width="1" stroke-linejoin="round"/>
<polygon points="151.5,760.5 154.2,765.4 160,768.5 166.1,772.5 174.6,774.7 180.5,774.6 186.4,773 193.2,771.4 199,773.5 203.7,776.8 200,780 196,783 191.7,785.5 186,789 180,791.8 175,793.5 170,795 166,796.5 162,795.5 158,798 155,798.5 151.7,799.5 150.6,795.2 148.5,789.8 147.1,784.5 146.5,778 147.5,771 149,766" fill="#6e9fba" stroke="#fff" stroke-width="1" stroke-linejoin="round"/>
<ellipse cx="109.5" cy="806" rx="1.6" ry="1.3" fill="#6598b3"/>
<ellipse cx="110.5" cy="821" rx="1.4" ry="1.1" fill="#6598b3"/>
<ellipse cx="116.5" cy="827.5" rx="1.5" ry="1.0" fill="#6598b3"/>
<ellipse cx="124.5" cy="822" rx="1.8" ry="1.2" fill="#6598b3"/>
<ellipse cx="131" cy="817.5" rx="1.5" ry="1.1" fill="#6598b3"/>
<ellipse cx="139.5" cy="818.5" rx="1.9" ry="1.3" fill="#6598b3"/>
<ellipse cx="144.5" cy="812" rx="1.4" ry="1.0" fill="#6598b3"/>
<ellipse cx="151.5" cy="805.5" rx="2.2" ry="1.8" fill="#6e9fba"/>
<ellipse cx="162.5" cy="800.5" rx="2.0" ry="2.8" fill="#6e9fba"/>
<ellipse cx="168.5" cy="798.8" rx="1.3" ry="1.0" fill="#6e9fba"/>
<ellipse cx="102" cy="734.5" rx="1.3" ry="1.0" fill="#2e6e8c"/>
<ellipse cx="104.5" cy="741" rx="1.1" ry="0.9" fill="#2e6e8c"/>
<g fill="#ececec" stroke="#fff" stroke-width="0.5">
<ellipse cx="137.8" cy="742" rx="3.2" ry="8.5" transform="rotate(-12 137.8 742)"/>
<circle cx="178" cy="766.5" r="4.2"/>
<ellipse cx="197.5" cy="776" rx="6" ry="5"/>
<ellipse cx="123" cy="792" rx="5" ry="3.6"/>
</g>
<path d="M116.5,700 Q117.5,697 121,696.6 Q125,695.2 129,696.8 Q133,697 133.2,700.5 Q133,704.5 129,705.8 Q124,706.8 120.5,705.5 Q116.5,703.5 116.5,700 Z M124,698.5 Q127,697.5 129.5,699 Q131,701.5 128.5,703.5 Q125.5,704.5 123.5,702.5 Q122.5,700 124,698.5 Z" fill="none" stroke="#c9c9c9" stroke-width="0.7"/>
<ellipse cx="112.5" cy="834.8" rx="11.6" ry="6.2" transform="rotate(-8 112.5 834.8)" fill="#eaeaea" stroke="#c9c9c9" stroke-width="0.7"/>
</g>
<g transform="translate(188.3,0)">
<polygon points="132.7,672.8 135.9,676.5 140.2,679.8 142.5,683 144,689.6 145.7,695.5 150.8,700.6 152.5,708.2 153.3,711.5 154.1,712.9 149.8,715.1 144.4,718.3 139,721 137.5,722 134.7,723.2 128.2,724.8 122.9,724.2 117.5,721.5 119.5,717 117.8,714.2 115.8,709 114.4,704 112.3,699 112.5,696.4 114.5,692 116.1,687.1 117.8,680.3 120.5,676.5 123.7,673.5 128,673.2" fill="#ececec" stroke="#c9c9c9" stroke-width="1" stroke-linejoin="round"/>
<polygon points="132.7,672.8 138.1,672.2 143.5,671.6 149,671.8 154.2,671.5 159.2,671.5 162.6,669 165.5,665 167.7,661 169.5,665 172.7,671.8 176.2,678.6 179.5,682.1 183,687 187,692 191,698 194.8,704.1 198.2,710.8 199,715.9 191.3,717.5 182.7,717.5 171.9,718.6 165,716 157.5,715.1 154.1,712.9 153.3,711.5 152.5,708.2 150.8,700.6 145.7,695.5 144,689.6 142.5,683 140.2,679.8 135.9,676.5" fill="#2b6a88" stroke="#fff" stroke-width="1" stroke-linejoin="round"/>
<polygon points="112.2,721 117.5,721.5 122.9,724.2 128.2,724.8 134.7,723.2 137.5,722 137,727 134.8,734.5 135.9,743.1 138.1,750.6 142.4,752.8 144.5,753.3 140.9,754.3 132.3,755.9 124.8,754.8 116.2,759.7 115.5,751.7 113.3,743.1 108,738 106.8,735.5 103.1,729.6 105.8,725.8 109,722.6" fill="#a4c7d9" stroke="#fff" stroke-width="1" stroke-linejoin="round"/>
<polygon points="137.5,722 139,721 144.4,718.3 149.8,715.1 154.1,712.9 157.5,715.1 156,720 155.8,740.2 156.8,747.7 161.2,752 157.9,757.4 153.5,759.5 151.5,760.5 145.2,758.6 144.5,753.3 142.4,752.8 138.1,750.6 135.9,743.1 134.8,734.5 137,727" fill="#bad6e3" stroke="#fff" stroke-width="1" stroke-linejoin="round"/>
<polygon points="116.2,759.7 124.8,754.8 132.3,755.9 140.9,754.3 144.5,753.3 145.2,758.6 151.5,760.5 149,766 147.5,771 146.5,778 147.1,784.5 145.2,784.5 139.8,785.5 132.3,784.5 129.1,781.2 124.8,782.3 121.5,781.2 118.3,785.5 111.8,784 112.9,778 115.1,771.5 117.2,764" fill="#8cb6cc" stroke="#fff" stroke-width="1" stroke-linejoin="round"/>
<polygon points="111.8,784 118.3,785.5 121.5,781.2 124.8,782.3 129.1,781.2 132.3,784.5 139.8,785.5 145.2,784.5 147.1,784.5 148.5,789.8 150.6,795.2 151.7,799.5 148.5,803.8 145.2,806 140.9,810.3 137.7,814.6 134.5,810.3 129.1,812.5 125.8,817.8 121.5,818.9 118.3,824.3 114,823.2 111.8,816.8 109,810 107,803 106.5,793 108.6,787.7" fill="#c6dde8" stroke="#fff" stroke-width="1" stroke-linejoin="round"/>
<polygon points="157.5,715.1 165,716 171.9,718.6 182.7,717.5 191.3,717.5 199,715.9 201,720.8 202.1,731.5 203.2,740.2 203.5,750 203.5,758 204.2,766 205.3,772.5 203.7,776.8 199,773.5 193.2,771.4 186.4,773 180.5,774.6 174.6,774.7 166.1,772.5 160,768.5 154.2,765.4 151.5,760.5 153.5,759.5 157.9,757.4 161.2,752 156.8,747.7 155.8,740.2 156,720" fill="#cde2ec" stroke="#fff" stroke-width="1" stroke-linejoin="round"/>
<polygon points="151.5,760.5 154.2,765.4 160,768.5 166.1,772.5 174.6,774.7 180.5,774.6 186.4,773 193.2,771.4 199,773.5 203.7,776.8 200,780 196,783 191.7,785.5 186,789 180,791.8 175,793.5 170,795 166,796.5 162,795.5 158,798 155,798.5 151.7,799.5 150.6,795.2 148.5,789.8 147.1,784.5 146.5,778 147.5,771 149,766" fill="#c3dbe7" stroke="#fff" stroke-width="1" stroke-linejoin="round"/>
<ellipse cx="109.5" cy="806" rx="1.6" ry="1.3" fill="#c6dde8"/>
<ellipse cx="110.5" cy="821" rx="1.4" ry="1.1" fill="#c6dde8"/>
<ellipse cx="116.5" cy="827.5" rx="1.5" ry="1.0" fill="#c6dde8"/>
<ellipse cx="124.5" cy="822" rx="1.8" ry="1.2" fill="#c6dde8"/>
<ellipse cx="131" cy="817.5" rx="1.5" ry="1.1" fill="#c6dde8"/>
<ellipse cx="139.5" cy="818.5" rx="1.9" ry="1.3" fill="#c6dde8"/>
<ellipse cx="144.5" cy="812" rx="1.4" ry="1.0" fill="#c6dde8"/>
<ellipse cx="151.5" cy="805.5" rx="2.2" ry="1.8" fill="#c3dbe7"/>
<ellipse cx="162.5" cy="800.5" rx="2.0" ry="2.8" fill="#c3dbe7"/>
<ellipse cx="168.5" cy="798.8" rx="1.3" ry="1.0" fill="#c3dbe7"/>
<ellipse cx="102" cy="734.5" rx="1.3" ry="1.0" fill="#a4c7d9"/>
<ellipse cx="104.5" cy="741" rx="1.1" ry="0.9" fill="#a4c7d9"/>
<g fill="#ececec" stroke="#fff" stroke-width="0.5">
<ellipse cx="137.8" cy="742" rx="3.2" ry="8.5" transform="rotate(-12 137.8 742)"/>
<circle cx="178" cy="766.5" r="4.2"/>
<ellipse cx="197.5" cy="776" rx="6" ry="5"/>
<ellipse cx="123" cy="792" rx="5" ry="3.6"/>
</g>
<path d="M116.5,700 Q117.5,697 121,696.6 Q125,695.2 129,696.8 Q133,697 133.2,700.5 Q133,704.5 129,705.8 Q124,706.8 120.5,705.5 Q116.5,703.5 116.5,700 Z M124,698.5 Q127,697.5 129.5,699 Q131,701.5 128.5,703.5 Q125.5,704.5 123.5,702.5 Q122.5,700 124,698.5 Z" fill="none" stroke="#c9c9c9" stroke-width="0.7"/>
<ellipse cx="112.5" cy="834.8" rx="11.6" ry="6.2" transform="rotate(-8 112.5 834.8)" fill="#eaeaea" stroke="#c9c9c9" stroke-width="0.7"/>
</g>
<g transform="translate(371.5,0)">
<polygon points="132.7,672.8 135.9,676.5 140.2,679.8 142.5,683 144,689.6 145.7,695.5 150.8,700.6 152.5,708.2 153.3,711.5 154.1,712.9 149.8,715.1 144.4,718.3 139,721 137.5,722 134.7,723.2 128.2,724.8 122.9,724.2 117.5,721.5 119.5,717 117.8,714.2 115.8,709 114.4,704 112.3,699 112.5,696.4 114.5,692 116.1,687.1 117.8,680.3 120.5,676.5 123.7,673.5 128,673.2" fill="#ececec" stroke="#c9c9c9" stroke-width="1" stroke-linejoin="round"/>
<polygon points="132.7,672.8 138.1,672.2 143.5,671.6 149,671.8 154.2,671.5 159.2,671.5 162.6,669 165.5,665 167.7,661 169.5,665 172.7,671.8 176.2,678.6 179.5,682.1 183,687 187,692 191,698 194.8,704.1 198.2,710.8 199,715.9 191.3,717.5 182.7,717.5 171.9,718.6 165,716 157.5,715.1 154.1,712.9 153.3,711.5 152.5,708.2 150.8,700.6 145.7,695.5 144,689.6 142.5,683 140.2,679.8 135.9,676.5" fill="#33789c" stroke="#fff" stroke-width="1" stroke-linejoin="round"/>
<polygon points="112.2,721 117.5,721.5 122.9,724.2 128.2,724.8 134.7,723.2 137.5,722 137,727 134.8,734.5 135.9,743.1 138.1,750.6 142.4,752.8 144.5,753.3 140.9,754.3 132.3,755.9 124.8,754.8 116.2,759.7 115.5,751.7 113.3,743.1 108,738 106.8,735.5 103.1,729.6 105.8,725.8 109,722.6" fill="#33789c" stroke="#fff" stroke-width="1" stroke-linejoin="round"/>
<polygon points="137.5,722 139,721 144.4,718.3 149.8,715.1 154.1,712.9 157.5,715.1 156,720 155.8,740.2 156.8,747.7 161.2,752 157.9,757.4 153.5,759.5 151.5,760.5 145.2,758.6 144.5,753.3 142.4,752.8 138.1,750.6 135.9,743.1 134.8,734.5 137,727" fill="#a6c8d9" stroke="#fff" stroke-width="1" stroke-linejoin="round"/>
<polygon points="116.2,759.7 124.8,754.8 132.3,755.9 140.9,754.3 144.5,753.3 145.2,758.6 151.5,760.5 149,766 147.5,771 146.5,778 147.1,784.5 145.2,784.5 139.8,785.5 132.3,784.5 129.1,781.2 124.8,782.3 121.5,781.2 118.3,785.5 111.8,784 112.9,778 115.1,771.5 117.2,764" fill="#a6c8d9" stroke="#fff" stroke-width="1" stroke-linejoin="round"/>
<polygon points="111.8,784 118.3,785.5 121.5,781.2 124.8,782.3 129.1,781.2 132.3,784.5 139.8,785.5 145.2,784.5 147.1,784.5 148.5,789.8 150.6,795.2 151.7,799.5 148.5,803.8 145.2,806 140.9,810.3 137.7,814.6 134.5,810.3 129.1,812.5 125.8,817.8 121.5,818.9 118.3,824.3 114,823.2 111.8,816.8 109,810 107,803 106.5,793 108.6,787.7" fill="#5b93b1" stroke="#fff" stroke-width="1" stroke-linejoin="round"/>
<polygon points="157.5,715.1 165,716 171.9,718.6 182.7,717.5 191.3,717.5 199,715.9 201,720.8 202.1,731.5 203.2,740.2 203.5,750 203.5,758 204.2,766 205.3,772.5 203.7,776.8 199,773.5 193.2,771.4 186.4,773 180.5,774.6 174.6,774.7 166.1,772.5 160,768.5 154.2,765.4 151.5,760.5 153.5,759.5 157.9,757.4 161.2,752 156.8,747.7 155.8,740.2 156,720" fill="#a2c5d7" stroke="#fff" stroke-width="1" stroke-linejoin="round"/>
<polygon points="151.5,760.5 154.2,765.4 160,768.5 166.1,772.5 174.6,774.7 180.5,774.6 186.4,773 193.2,771.4 199,773.5 203.7,776.8 200,780 196,783 191.7,785.5 186,789 180,791.8 175,793.5 170,795 166,796.5 162,795.5 158,798 155,798.5 151.7,799.5 150.6,795.2 148.5,789.8 147.1,784.5 146.5,778 147.5,771 149,766" fill="#6b9fbb" stroke="#fff" stroke-width="1" stroke-linejoin="round"/>
<ellipse cx="109.5" cy="806" rx="1.6" ry="1.3" fill="#5b93b1"/>
<ellipse cx="110.5" cy="821" rx="1.4" ry="1.1" fill="#5b93b1"/>
<ellipse cx="116.5" cy="827.5" rx="1.5" ry="1.0" fill="#5b93b1"/>
<ellipse cx="124.5" cy="822" rx="1.8" ry="1.2" fill="#5b93b1"/>
<ellipse cx="131" cy="817.5" rx="1.5" ry="1.1" fill="#5b93b1"/>
<ellipse cx="139.5" cy="818.5" rx="1.9" ry="1.3" fill="#5b93b1"/>
<ellipse cx="144.5" cy="812" rx="1.4" ry="1.0" fill="#5b93b1"/>
<ellipse cx="151.5" cy="805.5" rx="2.2" ry="1.8" fill="#6b9fbb"/>
<ellipse cx="162.5" cy="800.5" rx="2.0" ry="2.8" fill="#6b9fbb"/>
<ellipse cx="168.5" cy="798.8" rx="1.3" ry="1.0" fill="#6b9fbb"/>
<ellipse cx="102" cy="734.5" rx="1.3" ry="1.0" fill="#33789c"/>
<ellipse cx="104.5" cy="741" rx="1.1" ry="0.9" fill="#33789c"/>
<g fill="#ececec" stroke="#fff" stroke-width="0.5">
<ellipse cx="137.8" cy="742" rx="3.2" ry="8.5" transform="rotate(-12 137.8 742)"/>
<circle cx="178" cy="766.5" r="4.2"/>
<ellipse cx="197.5" cy="776" rx="6" ry="5"/>
<ellipse cx="123" cy="792" rx="5" ry="3.6"/>
</g>
<path d="M116.5,700 Q117.5,697 121,696.6 Q125,695.2 129,696.8 Q133,697 133.2,700.5 Q133,704.5 129,705.8 Q124,706.8 120.5,705.5 Q116.5,703.5 116.5,700 Z M124,698.5 Q127,697.5 129.5,699 Q131,701.5 128.5,703.5 Q125.5,704.5 123.5,702.5 Q122.5,700 124,698.5 Z" fill="none" stroke="#c9c9c9" stroke-width="0.7"/>
<ellipse cx="112.5" cy="834.8" rx="11.6" ry="6.2" transform="rotate(-8 112.5 834.8)" fill="#eaeaea" stroke="#c9c9c9" stroke-width="0.7"/>
</g>
<rect x="150.2" y="686.3" width="35.3" height="21.0" fill="#f1c40f"/>
<rect x="185.5" y="686.3" width="10.3" height="21.0" fill="#3aa585"/>
<line x1="185.5" y1="682.8" x2="185.5" y2="710.8" stroke="#111" stroke-width="1.4"/>
<rect x="56.7" y="711.7" width="26.1" height="20.0" fill="#f1c40f"/>
<rect x="82.8" y="711.7" width="13.3" height="20.0" fill="#3aa585"/>
<line x1="82.8" y1="708.2" x2="82.8" y2="735.2" stroke="#111" stroke-width="1.4"/>
<rect x="154.2" y="716.8" width="10.4" height="22.2" fill="#f1c40f"/>
<rect x="164.6" y="716.8" width="6.9" height="22.2" fill="#3aa585"/>
<line x1="164.6" y1="713.3" x2="164.6" y2="742.5" stroke="#111" stroke-width="1.4"/>
<rect x="173.9" y="742.6" width="29.9" height="20.9" fill="#f1c40f"/>
<rect x="203.8" y="742.6" width="19.0" height="20.9" fill="#3aa585"/>
<line x1="203.8" y1="739.1" x2="203.8" y2="767.0" stroke="#111" stroke-width="1.4"/>
<rect x="66.1" y="761.1" width="19.9" height="20.3" fill="#f1c40f"/>
<rect x="86.0" y="761.1" width="9.6" height="20.3" fill="#3aa585"/>
<line x1="86.0" y1="757.6" x2="86.0" y2="784.9" stroke="#111" stroke-width="1.4"/>
<rect x="76.2" y="792.8" width="27.6" height="21.0" fill="#f1c40f"/>
<rect x="103.8" y="792.8" width="17.0" height="21.0" fill="#3aa585"/>
<line x1="103.8" y1="789.3" x2="103.8" y2="817.3" stroke="#111" stroke-width="1.4"/>
<rect x="154.5" y="790.9" width="21.5" height="20.7" fill="#f1c40f"/>
<rect x="176.0" y="790.9" width="11.8" height="20.7" fill="#3aa585"/>
<line x1="176.0" y1="787.4" x2="176.0" y2="815.1" stroke="#111" stroke-width="1.4"/>
<rect x="358.7" y="679.8" width="24.6" height="21.1" fill="#f1c40f"/>
<rect x="383.3" y="679.8" width="10.5" height="21.1" fill="#3aa585"/>
<line x1="383.3" y1="676.3" x2="383.3" y2="704.4" stroke="#111" stroke-width="1.4"/>
<rect x="277.5" y="728.9" width="19.5" height="21.6" fill="#f1c40f"/>
<rect x="297.0" y="728.9" width="12.4" height="21.6" fill="#3aa585"/>
<line x1="297.0" y1="725.4" x2="297.0" y2="754.0" stroke="#111" stroke-width="1.4"/>
<rect x="342.2" y="719.9" width="8.1" height="21.9" fill="#f1c40f"/>
<rect x="350.3" y="719.9" width="6.9" height="21.9" fill="#3aa585"/>
<line x1="350.3" y1="716.4" x2="350.3" y2="745.3" stroke="#111" stroke-width="1.4"/>
<rect x="358.7" y="741.0" width="20.3" height="21.0" fill="#f1c40f"/>
<rect x="379.0" y="741.0" width="15.9" height="21.0" fill="#3aa585"/>
<line x1="379.0" y1="737.5" x2="379.0" y2="765.5" stroke="#111" stroke-width="1.4"/>
<rect x="291.5" y="759.4" width="13.1" height="20.4" fill="#f1c40f"/>
<rect x="304.6" y="759.4" width="9.6" height="20.4" fill="#3aa585"/>
<line x1="304.6" y1="755.9" x2="304.6" y2="783.3" stroke="#111" stroke-width="1.4"/>
<rect x="277.5" y="796.0" width="18.1" height="21.1" fill="#f1c40f"/>
<rect x="295.6" y="796.0" width="13.6" height="21.1" fill="#3aa585"/>
<line x1="295.6" y1="792.5" x2="295.6" y2="820.6" stroke="#111" stroke-width="1.4"/>
<rect x="354.0" y="788.5" width="14.2" height="20.4" fill="#f1c40f"/>
<rect x="368.2" y="788.5" width="10.6" height="20.4" fill="#3aa585"/>
<line x1="368.2" y1="785.0" x2="368.2" y2="812.4" stroke="#111" stroke-width="1.4"/>
<rect x="544.3" y="677.7" width="20.1" height="20.0" fill="#f1c40f"/>
<rect x="564.4" y="677.7" width="9.4" height="20.0" fill="#3aa585"/>
<line x1="564.4" y1="674.2" x2="564.4" y2="701.2" stroke="#111" stroke-width="1.4"/>
<rect x="453.2" y="730.6" width="23.8" height="21.6" fill="#f1c40f"/>
<rect x="477.0" y="730.6" width="13.9" height="21.6" fill="#3aa585"/>
<line x1="477.0" y1="727.1" x2="477.0" y2="755.7" stroke="#111" stroke-width="1.4"/>
<rect x="522.2" y="721.4" width="9.4" height="20.9" fill="#f1c40f"/>
<rect x="531.6" y="721.4" width="6.7" height="20.9" fill="#3aa585"/>
<line x1="531.6" y1="717.9" x2="531.6" y2="745.8" stroke="#111" stroke-width="1.4"/>
<rect x="540.0" y="742.2" width="23.3" height="21.1" fill="#f1c40f"/>
<rect x="563.3" y="742.2" width="16.4" height="21.1" fill="#3aa585"/>
<line x1="563.3" y1="738.7" x2="563.3" y2="766.8" stroke="#111" stroke-width="1.4"/>
<rect x="477.6" y="759.4" width="15.2" height="21.1" fill="#f1c40f"/>
<rect x="492.8" y="759.4" width="10.0" height="21.1" fill="#3aa585"/>
<line x1="492.8" y1="755.9" x2="492.8" y2="784.0" stroke="#111" stroke-width="1.4"/>
<rect x="455.4" y="796.4" width="25.0" height="20.7" fill="#f1c40f"/>
<rect x="480.4" y="796.4" width="15.3" height="20.7" fill="#3aa585"/>
<line x1="480.4" y1="792.9" x2="480.4" y2="820.6" stroke="#111" stroke-width="1.4"/>
<rect x="528.6" y="778.3" width="18.5" height="19.9" fill="#f1c40f"/>
<rect x="547.1" y="778.3" width="11.7" height="19.9" fill="#3aa585"/>
<line x1="547.1" y1="774.8" x2="547.1" y2="801.7" stroke="#111" stroke-width="1.4"/>
<polyline points="88.2,734.6 96.3,741.6 114.6,741.6" fill="none" stroke="#444" stroke-width="0.7"/>
</svg>
<div class="a b mv" style="right:465.7px;top:692.1px;color:#333">3,577</div>
<div class="a b mv" style="left:186.7px;top:692.1px;color:#333">1,004</div>
<div class="a b mv" style="right:568.4px;top:717.0px;color:#333">2,599</div>
<div class="a b mv" style="left:84.0px;top:717.0px;color:#333">1,360</div>
<div class="a b mv" style="right:486.6px;top:723.2px;color:#fff">1,074</div>
<div class="a b mv" style="left:165.8px;top:723.2px;color:#333">656</div>
<div class="a b mv" style="right:447.4px;top:748.3px;color:#333">3,028</div>
<div class="a b mv" style="left:205.0px;top:748.3px;color:#333">1,769</div>
<div class="a b mv" style="right:565.2px;top:766.5px;color:#333">1,990</div>
<div class="a b mv" style="left:87.2px;top:766.5px;color:#333">968</div>
<div class="a b mv" style="right:547.4px;top:798.6px;color:#333">2,785</div>
<div class="a b mv" style="left:105.0px;top:798.6px;color:#333">1,521</div>
<div class="a b mv" style="right:475.2px;top:796.5px;color:#333">2,121</div>
<div class="a b mv" style="left:177.2px;top:796.5px;color:#333">1,168</div>
<div class="a b mv" style="right:267.9px;top:685.6px;color:#333">2,605</div>
<div class="a b mv" style="left:384.5px;top:685.6px;color:#333">975</div>
<div class="a b mv" style="right:354.2px;top:735.0px;color:#333">2,001</div>
<div class="a b mv" style="left:298.2px;top:735.0px;color:#fff">1,276</div>
<div class="a b mv" style="right:300.9px;top:726.1px;color:#fff">844</div>
<div class="a b mv" style="left:351.5px;top:726.1px;color:#333">618</div>
<div class="a b mv" style="right:272.2px;top:746.8px;color:#333">2,111</div>
<div class="a b mv" style="left:380.2px;top:746.8px;color:#333">1,627</div>
<div class="a b mv" style="right:346.6px;top:764.9px;color:#333">1,330</div>
<div class="a b mv" style="left:305.8px;top:764.9px;color:#fff">905</div>
<div class="a b mv" style="right:355.6px;top:801.8px;color:#333">1,871</div>
<div class="a b mv" style="left:296.8px;top:801.8px;color:#333">1,415</div>
<div class="a b mv" style="right:283.0px;top:794.0px;color:#333">1,448</div>
<div class="a b mv" style="left:369.4px;top:794.0px;color:#333">1,055</div>
<div class="a b mv" style="right:86.8px;top:683.0px;color:#333">2,295</div>
<div class="a b mv" style="left:565.6px;top:683.0px;color:#333">1,029</div>
<div class="a b mv" style="right:174.2px;top:736.7px;color:#333">2,736</div>
<div class="a b mv" style="left:478.2px;top:736.7px;color:#fff">1,381</div>
<div class="a b mv" style="right:119.6px;top:727.1px;color:#fff">1,086</div>
<div class="a b mv" style="left:532.8px;top:727.1px;color:#fff">674</div>
<div class="a b mv" style="right:87.9px;top:748.0px;color:#333">2,663</div>
<div class="a b mv" style="left:564.5px;top:748.0px;color:#333">1,771</div>
<div class="a b mv" style="right:158.4px;top:765.2px;color:#333">1,623</div>
<div class="a b mv" style="left:494.0px;top:765.2px;color:#fff">1,040</div>
<div class="a b mv" style="right:170.8px;top:802.0px;color:#333">2,783</div>
<div class="a b mv" style="left:481.6px;top:802.0px;color:#fff">1,586</div>
<div class="a b mv" style="right:104.1px;top:783.5px;color:#fff">2,001</div>
<div class="a b mv" style="left:548.3px;top:783.5px;color:#333">1,170</div>
<div class="a" style="left:86.3px;top:659.3px;font-size:8.5px;color:#444;font-weight:500">'25년1월</div>
<div class="a" style="left:273.2px;top:659.8px;font-size:8.5px;color:#444;font-weight:500">2월</div>
<div class="a" style="left:450px;top:659.3px;font-size:8.5px;color:#444;font-weight:500">3월</div>
<div class="a" style="left:146px;top:676.4px;font-size:8px;color:#c9d8e0">강원</div>
<div class="a" style="left:136px;top:713.5px;font-size:7.5px;color:#cf8791">충북</div>
<div class="a" style="left:116px;top:738px;font-size:8px;color:#c9d8e0">충남</div>
<div class="a" style="left:188.7px;top:728.8px;font-size:8px;color:#3e6780">경북</div>
<div class="a" style="left:122px;top:765.5px;font-size:8px;color:#c9d8e0">전북</div>
<div class="a" style="left:127px;top:788px;font-size:8px;color:#3d6b82">전남</div>
<div class="a" style="left:154.5px;top:778.3px;font-size:8px;color:#dbe7ee">경남</div>
<div class="a" style="left:228.1px;top:633.4px;width:83.5px;height:11.1px;background:linear-gradient(90deg,#d3e7f0,#8cbad0 45%,#1f4a5e)"></div>
<div class="a" style="left:233px;top:636.3px;font-size:6px;color:#fff">최소 1.3</div>
<div class="a b" style="left:283.5px;top:636.3px;font-size:6px;color:#fff">최대 3.6</div>
<div class="a" style="left:319.7px;top:634.5px;font-size:9px;color:#999">배수 =</div>
<div class="a" style="left:346.3px;top:632.6px;width:42.7px;height:12.6px;background:#f1c40f;color:#333;font-size:7px;font-weight:bold;text-align:center;line-height:12.6px">유입인구</div>
<div class="a b" style="left:391.5px;top:632px;font-size:12px;color:#222">/</div>
<div class="a" style="left:400.2px;top:632.6px;width:41.4px;height:12.6px;background:#3aa585;color:#fff;font-size:7px;text-align:center;line-height:12.6px">유출인구</div>

<!-- /SEC6 -->
</body></html>
